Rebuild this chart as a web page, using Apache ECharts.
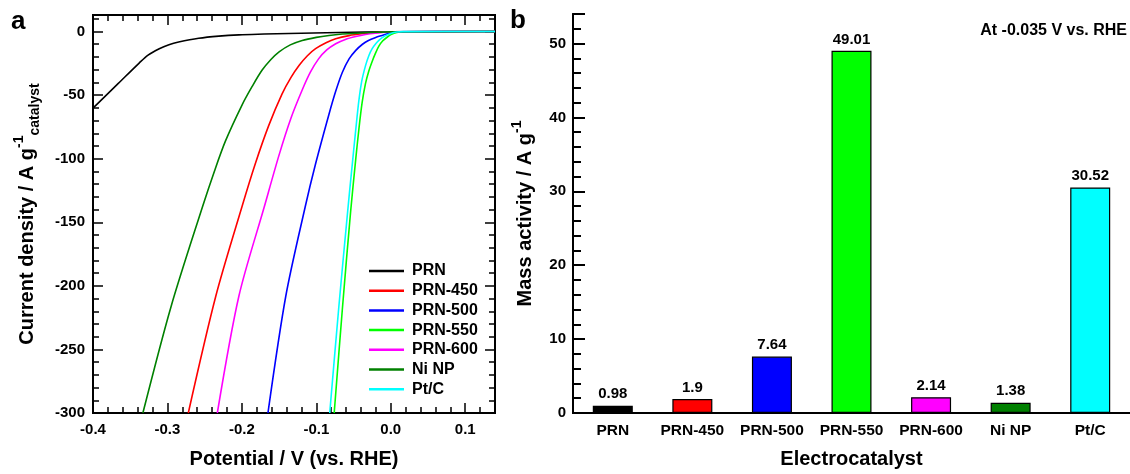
<!DOCTYPE html>
<html><head><meta charset="utf-8">
<script src="https://cdn.jsdelivr.net/npm/echarts@6/dist/echarts.min.js"></script>
<style>html,body{margin:0;padding:0;background:#fff}#c{width:1130px;height:474px}</style>
</head><body><div id="c"></div>
<script>
// ---------- DATA ----------
const seriesNames = ['PRN', 'PRN-450', 'PRN-500', 'PRN-550', 'PRN-600', 'Ni NP', 'Pt/C'];
// LSV curves: [potential (V vs RHE), current density (A g^-1)]
const curvePRN = [[-0.4,-60.2],[-0.366,-40.8],[-0.338,-24.8],[-0.326,-18.5],[-0.311,-13.5],[-0.298,-10.4],[-0.285,-8.3],[-0.258,-5.3],[-0.231,-3.6],[-0.204,-2.6],[-0.17,-2.0],[-0.137,-1.5],[-0.07,-0.8],[0,-0.2],[0.14,0]];
const curvePRN450 = [[-0.272,-300],[-0.235,-208],[-0.2,-138],[-0.182,-104],[-0.164,-74],[-0.146,-49],[-0.134,-36],[-0.123,-26.5],[-0.112,-19],[-0.101,-13.5],[-0.087,-8.8],[-0.074,-5.7],[-0.056,-3.2],[-0.039,-1.8],[-0.02,-0.8],[0,-0.3],[0.14,0]];
const curvePRN500 = [[-0.165,-300],[-0.141,-208],[-0.115,-138],[-0.101,-104],[-0.083,-65],[-0.074,-47],[-0.065,-32],[-0.056,-21.5],[-0.047,-14.8],[-0.038,-10],[-0.030,-7],[-0.021,-4.8],[-0.012,-3.1],[0,-1],[0.01,-0.2],[0.14,0]];
const curvePRN550 = [[-0.076,-300],[-0.065,-218],[-0.054,-142],[-0.047,-100],[-0.0425,-75],[-0.0385,-56],[-0.034,-41],[-0.0295,-31],[-0.025,-23.5],[-0.0205,-17],[-0.016,-11.5],[-0.011,-7.5],[-0.005,-4.5],[0.001,-2.2],[0.008,-0.8],[0.016,-0.2],[0.14,0]];
const curvePRN600 = [[-0.233,-300],[-0.204,-208],[-0.170,-138],[-0.150,-97],[-0.134,-68],[-0.119,-46],[-0.108,-32],[-0.097,-21.5],[-0.086,-14.5],[-0.074,-9.6],[-0.061,-6.2],[-0.047,-3.9],[-0.034,-2.3],[-0.021,-1.3],[0,-0.3],[0.14,0]];
const curveNiNP = [[-0.333,-300],[-0.295,-216],[-0.253,-138],[-0.237,-110],[-0.222,-86],[-0.2,-58],[-0.186,-43],[-0.173,-30.5],[-0.161,-22],[-0.150,-16],[-0.135,-10.5],[-0.119,-7],[-0.1,-4.6],[-0.083,-3.1],[-0.065,-2],[-0.047,-1.3],[-0.02,-0.6],[0,-0.3],[0.14,0]];
const curvePtC = [[-0.082,-300],[-0.070,-218],[-0.058,-142],[-0.052,-106],[-0.047,-77],[-0.043,-55],[-0.039,-39],[-0.034,-27],[-0.0295,-19],[-0.025,-13.5],[-0.0205,-9.8],[-0.016,-7.0],[-0.0115,-4.8],[-0.007,-3.2],[0,-1.5],[0.008,-0.4],[0.016,-0.1],[0.14,0]];
const curves = [curvePRN, curvePRN450, curvePRN500, curvePRN550, curvePRN600, curveNiNP, curvePtC];

const catalysts = ['PRN', 'PRN-450', 'PRN-500', 'PRN-550', 'PRN-600', 'Ni NP', 'Pt/C'];
const massActivity = [0.98, 1.9, 7.64, 49.01, 2.14, 1.38, 30.52];

const potentialMin = -0.4, potentialMax = 0.14;
const currentMin = -300, currentMax = 13;
const massMin = 0, massMax = 54;

// ---------- STYLE ----------
const colors = ['#000000', '#ff0000', '#0000ff', '#00ff00', '#ff00ff', '#008000', '#00ffff'];
const F = '"Liberation Sans", Arial, sans-serif';
const lab = {fontFamily: F, fontWeight: 'bold', color: '#000'};

function xAx(grid, pos, interval, len, opts) {
  return Object.assign({
    type: 'value', gridIndex: grid, position: pos, min: potentialMin, max: potentialMax, interval: interval,
    axisLine: {show: true, onZero: false, lineStyle: {color: '#000', width: 2}},
    axisTick: {show: true, inside: true, length: len, lineStyle: {color: '#000', width: 1.5}},
    axisLabel: {show: false}, splitLine: {show: false}
  }, opts || {});
}
function yAx(grid, pos, min, max, interval, len, w, opts) {
  return Object.assign({
    type: 'value', gridIndex: grid, position: pos, min: min, max: max, interval: interval,
    axisLine: {show: true, onZero: false, lineStyle: {color: '#000', width: 2}},
    axisTick: {show: true, inside: true, length: len, lineStyle: {color: '#000', width: w}},
    axisLabel: {show: false}, splitLine: {show: false}
  }, opts || {});
}

const option = {
  animation: false,
  backgroundColor: '#fff',
  grid: [
    {left: 93, top: 15, width: 402, height: 402},
    {left: 573, top: 14, width: 561, height: 402}
  ],
  xAxis: [
    xAx(0, 'bottom', 0.1, 10, {
      axisLabel: Object.assign({show: true, fontSize: 15, margin: 9, formatter: function (v) {
        const r = Math.round(v * 10) / 10;
        if (Math.abs(v - r) > 1e-6 || v > 0.12) return '';
        return r.toFixed(1);
      }}, lab),
      name: 'Potential / V (vs. RHE)', nameLocation: 'middle', nameGap: 36,
      nameTextStyle: Object.assign({fontSize: 20}, lab)
    }),
    xAx(0, 'bottom', 0.02, 6),
    xAx(0, 'top', 0.1, 10),
    xAx(0, 'top', 0.02, 6),
    {
      type: 'category', gridIndex: 1, position: 'bottom', data: catalysts,
      axisLine: {show: true, lineStyle: {color: '#000', width: 2}},
      axisTick: {show: false},
      axisLabel: Object.assign({fontSize: 15.5, margin: 10, interval: 0}, lab),
      name: 'Electrocatalyst', nameLocation: 'middle', nameGap: 36,
      nameTextStyle: Object.assign({fontSize: 20}, lab)
    },
    {
      type: 'category', gridIndex: 1, position: 'top', data: catalysts,
      axisLine: {show: true, lineStyle: {color: '#000', width: 2}},
      axisTick: {show: false}, axisLabel: {show: false}
    }
  ],
  yAxis: [
    yAx(0, 'left', currentMin, currentMax, 50, 10, 1.5, {
      axisLabel: Object.assign({show: true, fontSize: 15, margin: 8, formatter: function (v) {
        return (Math.abs(v % 50) > 1e-6) ? '' : String(Math.round(v));
      }}, lab),
      name: '{m|Current density / A g}{sup|-1}{sub|catalyst}', nameLocation: 'middle', nameGap: 51,
      nameTextStyle: {rich: {
        m: Object.assign({fontSize: 20, lineHeight: 30}, lab),
        sup: Object.assign({fontSize: 14, lineHeight: 14, verticalAlign: 'top'}, lab),
        sub: Object.assign({fontSize: 14, lineHeight: 14, verticalAlign: 'bottom'}, lab)
      }}
    }),
    yAx(0, 'left', currentMin, currentMax, 10, 6, 1.5),
    yAx(0, 'right', currentMin, currentMax, 50, 10, 1.5),
    yAx(0, 'right', currentMin, currentMax, 10, 6, 1.5),
    yAx(1, 'left', massMin, massMax, 10, 12, 2, {
      axisLabel: Object.assign({show: true, fontSize: 15, margin: 7, formatter: function (v) {
        return (Math.abs(v % 10) > 1e-6) ? '' : String(Math.round(v));
      }}, lab),
      name: '{m|Mass activity / A g}{sup|-1}', nameLocation: 'middle', nameGap: 33,
      nameTextStyle: {rich: {
        m: Object.assign({fontSize: 20, lineHeight: 30}, lab),
        sup: Object.assign({fontSize: 14, lineHeight: 14, verticalAlign: 'top'}, lab)
      }}
    }),
    yAx(1, 'left', massMin, massMax, 2, 8, 2)
  ],
  legend: {
    data: seriesNames, orient: 'vertical', left: 364, top: 258,
    itemWidth: 35, itemHeight: 14, itemGap: 3.7,
    icon: 'path://M0,6 L35,6 L35,8.5 L0,8.5 Z',
    textStyle: Object.assign({fontSize: 16, padding: [0, 0, 0, 3]}, lab)
  },
  series: seriesNames.map(function (n, i) {
    return {
      name: n, type: 'line', xAxisIndex: 0, yAxisIndex: 0, data: curves[i],
      symbol: 'none', smooth: 0.3, clip: true,
      lineStyle: {color: colors[i], width: 1.6}, itemStyle: {color: colors[i]}, z: 3
    };
  }).concat([{
    type: 'bar', xAxisIndex: 4, yAxisIndex: 4, barWidth: 40,
    data: massActivity.map(function (v, i) {
      return {value: v, itemStyle: {color: colors[i], borderColor: '#000', borderWidth: 1.2}};
    }),
    label: Object.assign({show: true, position: 'top', distance: 4, fontSize: 15}, lab)
  }]),
  graphic: [
    {type: 'text', left: 11, top: 9, style: {text: 'a', font: 'bold 26px ' + F, fill: '#000'}},
    {type: 'text', left: 510, top: 8, style: {text: 'b', font: 'bold 26px ' + F, fill: '#000'}},
    {type: 'text', right: 3, top: 23, style: {text: 'At -0.035 V vs. RHE', font: 'bold 16px ' + F, fill: '#000'}}
  ]
};
const chart = echarts.init(document.getElementById('c'), null, {renderer: 'canvas'});
chart.setOption(option);
</script></body></html>
